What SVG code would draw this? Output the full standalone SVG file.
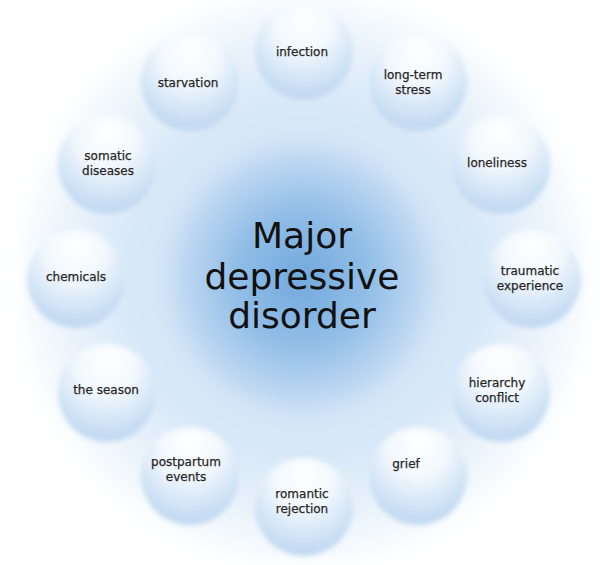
<svg xmlns="http://www.w3.org/2000/svg" width="600" height="565" viewBox="0 0 600 565">
<defs>
<radialGradient id="bg" cx="304" cy="279" r="300" gradientUnits="userSpaceOnUse">
<stop offset="0" stop-color="#c9def4"/>
<stop offset="0.6" stop-color="#d8e8f8"/>
<stop offset="0.85" stop-color="#eff6fc"/>
<stop offset="1" stop-color="#ffffff"/>
</radialGradient>
<radialGradient id="core" cx="302" cy="278" r="150" gradientUnits="userSpaceOnUse">
<stop offset="0" stop-color="#72a9dd"/>
<stop offset="0.45" stop-color="#92bee7"/>
<stop offset="0.8" stop-color="#bfd8f2"/>
<stop offset="1" stop-color="#cfe2f6" stop-opacity="0"/>
</radialGradient>
<radialGradient id="ball" cx="0.5" cy="0.3" r="0.75" fx="0.5" fy="0.15">
<stop offset="0" stop-color="#ffffff"/>
<stop offset="0.4" stop-color="#f2f8fd"/>
<stop offset="0.85" stop-color="#c6dcf3"/>
<stop offset="1" stop-color="#bdd6f0"/>
</radialGradient>
<filter id="soft" x="-20%" y="-20%" width="140%" height="140%">
<feGaussianBlur stdDeviation="2.5"/>
</filter>
<filter id="glow" x="-20%" y="-20%" width="140%" height="140%">
<feGaussianBlur stdDeviation="10"/>
</filter>
</defs>
<style>
.n{fill:url(#ball);filter:url(#soft)}
.t{font-family:"DejaVu Sans",Verdana,sans-serif;font-size:12px;fill:#262626;stroke:#262626;stroke-width:0.25;text-anchor:middle}
.c{font-family:"DejaVu Sans",Verdana,sans-serif;font-size:36px;fill:#111;text-anchor:middle}
</style>
<rect width="600" height="565" fill="#ffffff"/>
<circle cx="304" cy="279" r="285" fill="url(#bg)" filter="url(#glow)"/>
<circle cx="302" cy="278" r="150" fill="url(#core)"/>
<g id="connectors"/>
<g id="center">
<text class="c" x="302" y="248">Major</text>
<text class="c" x="302" y="289">depressive</text>
<text class="c" x="302" y="328">disorder</text>
</g>
<g id="n-infection"><circle class="n" cx="304" cy="51" r="49"/><text class="t" x="302" y="56">infection</text></g>
<g id="n-stress"><circle class="n" cx="418" cy="82" r="49"/><text class="t" x="413" y="79">long-term</text><text class="t" x="413" y="94">stress</text></g>
<g id="n-loneliness"><circle class="n" cx="501" cy="165" r="49"/><text class="t" x="497" y="167">loneliness</text></g>
<g id="n-traumatic"><circle class="n" cx="532" cy="279" r="49"/><text class="t" x="530" y="275">traumatic</text><text class="t" x="530" y="290">experience</text></g>
<g id="n-hierarchy"><circle class="n" cx="501" cy="393" r="49"/><text class="t" x="497" y="387">hierarchy</text><text class="t" x="497" y="402">conflict</text></g>
<g id="n-grief"><circle class="n" cx="418" cy="476" r="49"/><text class="t" x="406" y="468">grief</text></g>
<g id="n-romantic"><circle class="n" cx="304" cy="507" r="49"/><text class="t" x="302" y="498">romantic</text><text class="t" x="302" y="513">rejection</text></g>
<g id="n-postpartum"><circle class="n" cx="190" cy="476" r="49"/><text class="t" x="186" y="466">postpartum</text><text class="t" x="186" y="481">events</text></g>
<g id="n-season"><circle class="n" cx="107" cy="393" r="49"/><text class="t" x="106" y="394">the season</text></g>
<g id="n-chemicals"><circle class="n" cx="76" cy="279" r="49"/><text class="t" x="76" y="281">chemicals</text></g>
<g id="n-somatic"><circle class="n" cx="107" cy="165" r="49"/><text class="t" x="108" y="160">somatic</text><text class="t" x="108" y="175">diseases</text></g>
<g id="n-starvation"><circle class="n" cx="190" cy="82" r="49"/><text class="t" x="188" y="87">starvation</text></g>
</svg>
